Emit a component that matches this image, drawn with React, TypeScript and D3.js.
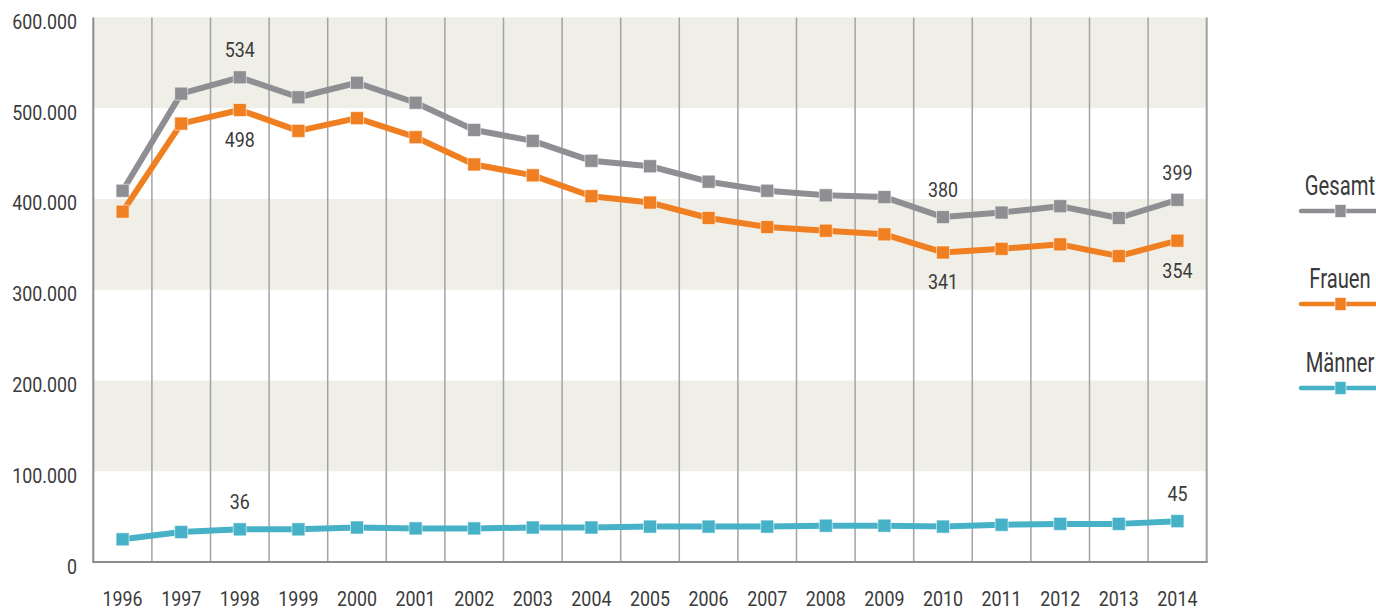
import React from 'react';
import * as d3 from 'd3';

const years = ['1996','1997','1998','1999','2000','2001','2002','2003','2004','2005','2006','2007','2008','2009','2010','2011','2012','2013','2014'];
const gesamt = [409, 516, 534, 512, 528, 506, 476, 464, 442, 436, 419, 409, 404, 402, 380, 385, 392, 379, 399];
const frauen = [386, 483, 498, 475, 489, 468, 438, 426, 403, 396, 379, 369, 365, 361, 341, 345, 350, 337, 354];
const maenner = [25, 33, 36, 36, 38, 37, 37, 38, 38, 39, 39, 39, 40, 40, 39, 41, 42, 42, 45];
const yTicks = [0, 100, 200, 300, 400, 500, 600];
const yTickLabels = ['0', '100.000', '200.000', '300.000', '400.000', '500.000', '600.000'];

// labels: [series, year index, position]
const pointLabels: [string, number, 'above' | 'below'][] = [
  ['Gesamt', 2, 'above'], ['Frauen', 2, 'below'],
  ['Gesamt', 14, 'above'], ['Frauen', 14, 'below'],
  ['Gesamt', 18, 'above'], ['Frauen', 18, 'below'],
  ['Männer', 2, 'above'], ['Männer', 18, 'above'],
];

const series = [
  { name: 'Gesamt', values: gesamt, color: '#8e8e93' },
  { name: 'Frauen', values: frauen, color: '#f07f22' },
  { name: 'Männer', values: maenner, color: '#47b2c7' },
];

const FONT = 'Roboto, "DejaVu Sans Condensed", sans-serif';
const TEXT = '#3a3a3a';

// condensed text: squeezed horizontally to mimic the narrow typeface
const CText = ({ x, y, anchor = 'middle', size = 21, sx = 0.85, children }: any) => (
  <text transform={`translate(${x},${y}) scale(${sx},1)`} textAnchor={anchor} fontSize={size} fill={TEXT}>
    {children}
  </text>
);

export default function App() {
  const left = 93.3, right = 1206.7, top = 17.4, bottom = 562;
  const x = d3.scalePoint<string>().domain(years).range([left, right]).padding(0.5);
  const y = d3.scaleLinear().domain([0, 600]).range([bottom, top]);
  const step = x.step();
  const line = d3.line<number>().x((_, i) => x(years[i])!).y(d => y(d));
  const ms = 13;

  const bands = [[100, 200], [300, 400], [500, 600]];
  const gridXs = d3.range(1, years.length).map(i => left + i * step);

  return (
    <svg width={1376} height={611} style={{ position: 'fixed', left: 0, top: 0, display: 'block', background: '#fff' }}
      fontFamily={FONT}>
      {bands.map(([a, b]) => (
        <rect key={a} x={left} y={y(b)} width={right - left} height={y(a) - y(b)} fill="#efefe7" />
      ))}
      {gridXs.map((gx, i) => (
        <line key={i} x1={gx} x2={gx} y1={top} y2={bottom} stroke="#a3a3a3" strokeWidth={1.5} />
      ))}
      <line x1={left} x2={left} y1={top} y2={bottom} stroke="#8c8c8c" strokeWidth={2} />
      <line x1={right} x2={right} y1={top} y2={bottom} stroke="#a0a0a0" strokeWidth={2} />
      <line x1={left - 1} x2={right + 1} y1={bottom} y2={bottom} stroke="#8c8c8c" strokeWidth={2} />

      {yTicks.map((t, i) => (
        <CText key={t} x={77} y={y(t) + 11.5} anchor="end">{yTickLabels[i]}</CText>
      ))}
      {years.map(yr => (
        <CText key={yr} x={x(yr)} y={606}>{yr}</CText>
      ))}

      {series.map(s => (
        <g key={s.name}>
          <path d={line(s.values) || ''} fill="none" stroke={s.color} strokeWidth={6} strokeLinejoin="round" />
          {s.values.map((v, i) => (
            <rect key={i} x={x(years[i])! - ms / 2} y={y(v) - ms / 2} width={ms} height={ms}
              fill={s.color} stroke="rgba(255,255,255,0.55)" strokeWidth={1} />
          ))}
        </g>
      ))}

      {pointLabels.map(([name, idx, pos]) => {
        const s = series.find(d => d.name === name)!;
        const v = s.values[idx];
        return (
          <CText key={name + idx} x={x(years[idx])} y={pos === 'above' ? y(v) - 20 : y(v) + 37}>{v}</CText>
        );
      })}

      {series.map((s, i) => {
        const ly = [211, 304, 388][i];
        return (
          <g key={s.name}>
            <CText x={1340} y={ly - 16} size={27} sx={0.75}>{s.name}</CText>
            <line x1={1301} x2={1380} y1={ly} y2={ly} stroke={s.color} strokeWidth={4.5} strokeLinecap="round" />
            <rect x={1335} y={ly - 6.5} width={11} height={13} fill={s.color} stroke="rgba(255,255,255,0.6)" strokeWidth={1} />
          </g>
        );
      })}
    </svg>
  );
}
